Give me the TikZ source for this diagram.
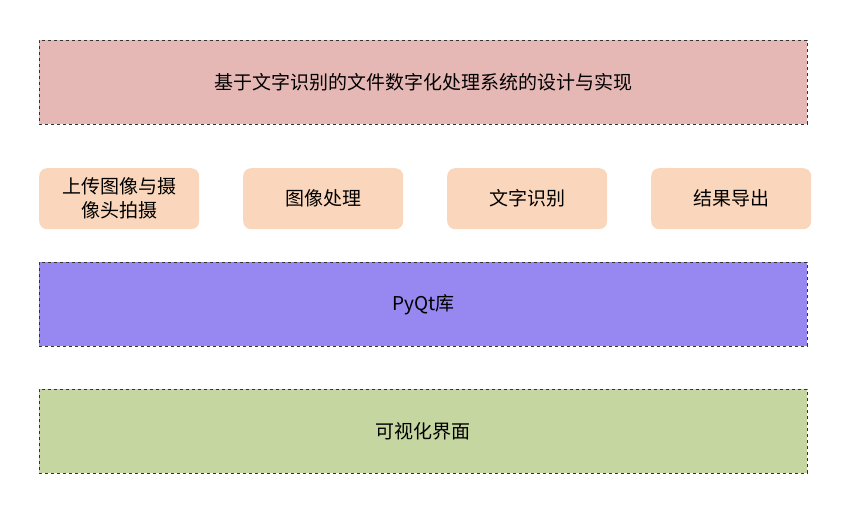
\documentclass[tikz,border=0pt]{standalone}
\usepackage{fontspec}
\setmainfont{Noto Sans CJK SC}
\begin{document}
\begin{tikzpicture}[x=1pt,y=-1pt,
  layer/.style={draw=black!80,dashed,line width=0.8pt,minimum width=768pt,minimum height=84pt,anchor=north west,inner sep=0pt},
  mod/.style={fill=peach,rounded corners=8pt,minimum width=160pt,minimum height=61pt,anchor=north west,inner sep=2pt,text width=156pt,align=center},
  font=\fontsize{19pt}{24pt}\selectfont]
\definecolor{peach}{HTML}{FAD7BC}
\useasboundingbox (0,0) rectangle (851,513);
\node[layer,fill={rgb,255:red,229;green,184;blue,181}] (title) at (39,40) {基于文字识别的文件数字化处理系统的设计与实现};
\node[mod] (m1) at (39,168) {上传图像与摄\\像头拍摄};
\node[mod] (m2) at (243,168) {图像处理};
\node[mod] (m3) at (447,168) {文字识别};
\node[mod] (m4) at (651,168) {结果导出};
\node[layer,fill={rgb,255:red,151;green,135;blue,240}] (pyqt) at (39,262) {PyQt库};
\node[layer,fill={rgb,255:red,197;green,214;blue,160}] (gui) at (39,389) {可视化界面};
\end{tikzpicture}
\end{document}
